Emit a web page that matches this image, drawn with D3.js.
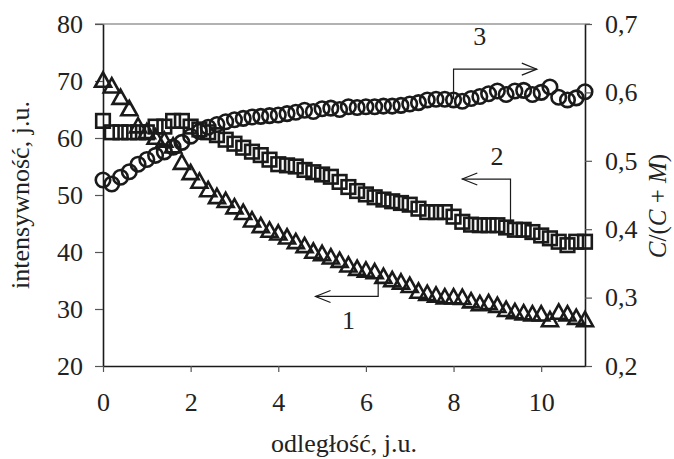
<!DOCTYPE html>
<html>
<head>
<meta charset="utf-8">
<script src="https://cdn.jsdelivr.net/npm/d3@7"></script>
<style>
  body { margin: 0; background: #fff; }
  svg text { font-family: "Liberation Serif", "Times New Roman", Times, serif; fill: #222; }
</style>
</head>
<body>
<svg id="chart"></svg>
<script>
// distance along the sample, j.u. (step 0.2)
const distance = d3.range(56).map(i => +(i * 0.2).toFixed(1))

// curve 1, triangles, left axis
const series1 = [70, 69, 67, 65, 62, 61, 60, 59.5, 58.5, 55.6,
  53.8, 52.3, 50.8, 49.6, 48.9, 47.8, 46.8, 45.5, 44.5, 43.7,
  43.2, 42.5, 41.7, 41, 40, 39.6, 39, 38.4, 37.6, 37,
  36.7, 36.4, 35.6, 35, 34.6, 34, 33, 32.6, 32.3, 32,
  32, 31.9, 31.3, 30.8, 31, 30.5, 29.8, 29.4, 29.2, 29,
  29, 28, 29.3, 29, 28.4, 28]

// curve 2, squares, left axis
const series2 = [63, 61, 61, 61, 61, 61, 62, 62, 63, 63,
  62, 61.5, 61, 60.5, 59.7, 59, 58.3, 57.6, 57, 56.2,
  55.4, 55.2, 55, 54.4, 54, 53.6, 53.2, 52.3, 51.4, 50.7,
  50.1, 49.6, 49.2, 48.9, 48.6, 48.3, 47.6, 47, 47, 47,
  46.2, 45.3, 44.8, 44.7, 44.7, 44.7, 44.3, 43.9, 43.9, 43.5,
  42.9, 42.4, 41.8, 41.2, 41.8, 41.8]

// curve 3, circles, right axis C/(C+M)
const series3 = [0.472, 0.466, 0.476, 0.484, 0.495, 0.502, 0.508, 0.513, 0.52, 0.527,
  0.536, 0.543, 0.549, 0.553, 0.557, 0.56, 0.562, 0.564, 0.565, 0.566,
  0.567, 0.569, 0.571, 0.574, 0.572, 0.576, 0.577, 0.575, 0.579, 0.578,
  0.579, 0.579, 0.58, 0.58, 0.581, 0.583, 0.585, 0.589, 0.59, 0.59,
  0.589, 0.587, 0.591, 0.594, 0.598, 0.602, 0.597, 0.602, 0.603, 0.597,
  0.6, 0.608, 0.593, 0.589, 0.592, 0.601]

const xTicks = [0, 2, 4, 6, 8, 10]
const leftTicks = [20, 30, 40, 50, 60, 70, 80]
const rightTicks = [0.2, 0.3, 0.4, 0.5, 0.6, 0.7]

const width = 674, height = 459
const margin = {top: 24, right: 89, bottom: 93, left: 103}
const iw = width - margin.left - margin.right
const ih = height - margin.top - margin.bottom
const fontSize = "26px"

const svg = d3.select("#chart").attr("width", width).attr("height", height)
const g = svg.append("g").attr("transform", `translate(${margin.left},${margin.top})`)

const x = d3.scaleLinear().domain([0, 11]).range([0, iw])
const yL = d3.scaleLinear().domain([20, 80]).range([ih, 0])
const yR = d3.scaleLinear().domain([0.2, 0.7]).range([ih, 0])

const ink = "#1a1a1a"

// axes
const fmtComma = d => d3.format(".1f")(d).replace(".", ",")

const styleAxis = (sel) => {
  sel.attr("font-family", null)
  sel.select(".domain").attr("stroke", ink).attr("stroke-width", 1.6)
  sel.selectAll(".tick line").attr("stroke", "#555").attr("stroke-width", 1.2)
  sel.selectAll(".tick text").style("font-size", fontSize).attr("fill", "#222")
}

g.append("line")
  .attr("x1", -8).attr("x2", iw + 5).attr("y1", 0).attr("y2", 0)
  .attr("stroke", "#666").attr("stroke-width", 1.2)

g.append("g")
  .call(d3.axisLeft(yL).tickValues(leftTicks).tickSize(8).tickPadding(12).tickSizeOuter(0))
  .call(styleAxis)

g.append("g")
  .attr("transform", `translate(${iw},0)`)
  .call(d3.axisRight(yR).tickValues(rightTicks).tickFormat(fmtComma).tickSize(7).tickPadding(13).tickSizeOuter(0))
  .call(styleAxis)

g.append("g")
  .attr("transform", `translate(0,${ih})`)
  .call(d3.axisBottom(x).tickValues(xTicks).tickSize(6).tickPadding(21).tickSizeOuter(0))
  .call(styleAxis)

// markers
const markerStyle = sel => sel.attr("fill", "none").attr("stroke", ink).attr("stroke-width", 2.6)

g.append("g").selectAll("path")
  .data(distance.map((d, i) => [d, series3[i]]))
  .join("path")
  .attr("d", d3.symbol(d3.symbolCircle, 165)())
  .attr("transform", d => `translate(${x(d[0])},${yR(d[1])})`)
  .call(markerStyle)

g.append("g").selectAll("rect")
  .data(distance.map((d, i) => [d, series2[i]]))
  .join("rect")
  .attr("x", d => x(d[0]) - 6.8).attr("y", d => yL(d[1]) - 6.8)
  .attr("width", 13.6).attr("height", 13.6)
  .call(markerStyle)

g.append("g").selectAll("path")
  .data(distance.map((d, i) => [d, series1[i]]))
  .join("path")
  .attr("d", "M0,-8.5L8,5.8L-8,5.8Z")
  .attr("transform", d => `translate(${x(d[0])},${yL(d[1])})`)
  .call(markerStyle)

// annotations: leader line + open arrowhead
function leader(points, arrowDir) {
  const line = d3.line()
  g.append("path").attr("d", line(points))
    .attr("fill", "none").attr("stroke", ink).attr("stroke-width", 1.2)
  const [ax, ay] = points[points.length - 1]
  const s = arrowDir === "right" ? -1 : 1
  g.append("path")
    .attr("d", line([[ax + s * 15, ay - 6], [ax, ay], [ax + s * 15, ay + 6]]))
    .attr("fill", "none").attr("stroke", ink).attr("stroke-width", 1.2)
}

// 3 -> right axis
leader([[x(8.0), yR(0.59)], [x(8.0), yR(0.634)], [x(9.9), yR(0.634)]], "right")
g.append("text").attr("x", x(8.6)).attr("y", yR(0.67))
  .attr("text-anchor", "middle").style("font-size", fontSize).text("3")

// 2 -> left axis
leader([[x(9.3), yL(45.5)], [x(9.3), yL(52.8)], [x(8.2), yL(52.8)]], "left")
g.append("text").attr("x", x(8.99)).attr("y", yL(55.2))
  .attr("text-anchor", "middle").style("font-size", fontSize).text("2")

// 1 -> left axis
leader([[x(6.28), yL(35.9)], [x(6.28), yL(32.2)], [x(4.85), yL(32.2)]], "left")
g.append("text").attr("x", x(5.6)).attr("y", yL(26.5))
  .attr("text-anchor", "middle").style("font-size", fontSize).text("1")

// axis titles
svg.append("text")
  .attr("x", margin.left + iw / 2).attr("y", 452)
  .attr("text-anchor", "middle").style("font-size", fontSize)
  .text("odległość, j.u.")

svg.append("text")
  .attr("transform", `translate(29,${margin.top + ih / 2}) rotate(-90)`)
  .attr("text-anchor", "middle").style("font-size", fontSize)
  .text("intensywność, j.u.")

const rt = svg.append("text")
  .attr("transform", `translate(666,206) rotate(-90)`)
  .attr("text-anchor", "middle").style("font-size", "25px")
rt.append("tspan").style("font-style", "italic").text("C")
rt.append("tspan").text("/(")
rt.append("tspan").style("font-style", "italic").text("C")
rt.append("tspan").text(" + ")
rt.append("tspan").style("font-style", "italic").text("M")
rt.append("tspan").text(")")
</script>
</body>
</html>
